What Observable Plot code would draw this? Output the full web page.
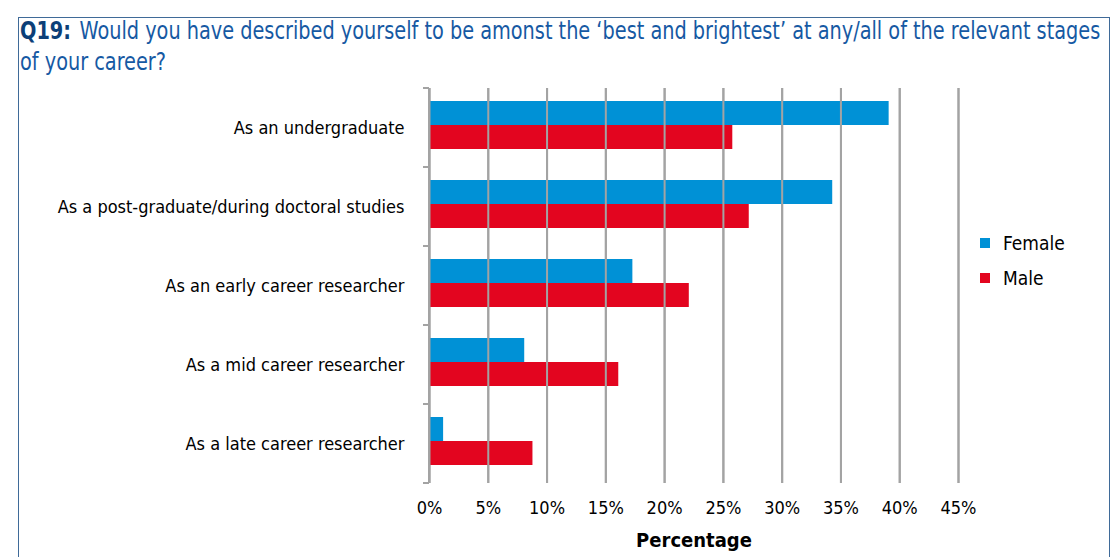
<!DOCTYPE html>
<html>
<head>
<meta charset="utf-8">
<script src="https://cdn.jsdelivr.net/npm/d3@7"></script>
<script src="https://cdn.jsdelivr.net/npm/@observablehq/plot@0.6"></script>
<style>
  html, body { margin: 0; padding: 0; background: #fff; }
  #wrap { position: relative; width: 1113px; height: 557px; overflow: hidden; background: #fff;
          font-family: "DejaVu Sans Condensed", "Liberation Sans Narrow", "Roboto", sans-serif; font-stretch: condensed; }
  #frame { position: absolute; left: 18px; top: 17px; width: 1092px; height: 560px; border: 1.5px solid #3f6a98; box-sizing: border-box; }
  #title { position: absolute; left: 20px; top: 15px; font-size: 25px; line-height: 31px; color: #1659a3;
           white-space: nowrap; transform: scaleX(0.858); transform-origin: left top; }
  #title b { color: #0c3f78; margin-right: 10px; }
  #chart { position: absolute; left: 0; top: 0; }
  #legend { position: absolute; left: 980px; top: 225px; font-size: 19px; color: #000; }
  .li { display: flex; align-items: center; height: 35px; }
  .sw { width: 10px; height: 10px; margin-right: 13px; }
</style>
</head>
<body>
<div id="wrap">
  <div id="frame"></div>
  <div id="title"><b>Q19:</b>Would you have described yourself to be amonst the ‘best and brightest’ at any/all of the relevant stages<br>of your career?</div>
  <div id="chart"></div>
  <div id="legend"></div>
</div>
<script>
const categories = [
  "As an undergraduate",
  "As a post-graduate/during doctoral studies",
  "As an early career researcher",
  "As a mid career researcher",
  "As a late career researcher"
];
const series = ["Female", "Male"];
const female = [39.1, 34.3, 17.3, 8.1, 1.2];
const male = [25.8, 27.2, 22.1, 16.1, 8.8];
const xTicks = [0, 5, 10, 15, 20, 25, 30, 35, 40, 45];
const colors = ["#0091d6", "#e3051f"];

const rows = [];
categories.forEach((c, i) => {
  rows.push({cat: c, gender: "Female", value: female[i]});
  rows.push({cat: c, gender: "Male", value: male[i]});
});

const font = '"DejaVu Sans Condensed", "Liberation Sans Narrow", Roboto, sans-serif';
const gridColor = "#a3a3a3";

// axis line and tick marks at the band boundaries
function yBoundaryTicks() {
  return (index, scales) => {
    const g = d3.create("svg:g");
    const y = scales.y;
    const bw = y.bandwidth();
    const x0 = scales.x(0);
    const edges = categories.map(c => y(c)).concat([y(categories[categories.length - 1]) + bw]);
    g.append("line").attr("x1", x0).attr("x2", x0)
      .attr("y1", edges[0]).attr("y2", edges[edges.length - 1])
      .attr("stroke", gridColor).attr("stroke-width", 2);
    for (const e of edges) {
      g.append("line").attr("x1", x0 - 6).attr("x2", x0).attr("y1", e).attr("y2", e)
        .attr("stroke", gridColor).attr("stroke-width", 2);
    }
    return g.node();
  };
}

const chart = Plot.plot({
  width: 1113,
  height: 557,
  marginLeft: 429,
  marginRight: 155,
  marginTop: 88,
  marginBottom: 74,
  style: {fontFamily: font, fontSize: "18px", color: "#000", background: "transparent"},
  x: {domain: [0, 45], ticks: xTicks},
  y: {domain: categories, padding: 0},
  color: {domain: series, range: colors},
  marks: [
    Plot.gridX(xTicks, {stroke: gridColor, strokeOpacity: 1, strokeWidth: 2}),
    Plot.barX(rows.filter(d => d.gender === "Female"), {x: "value", y: "cat", fill: "gender", insetTop: 13, insetBottom: 42}),
    Plot.barX(rows.filter(d => d.gender === "Male"), {x: "value", y: "cat", fill: "gender", insetTop: 37, insetBottom: 18}),
    yBoundaryTicks(),
    Plot.axisX(xTicks, {tickSize: 0, tickFormat: d => d + "%", fontSize: 18, tickPadding: 18, label: null}),
    Plot.tickX(xTicks, {x: d => d, stroke: gridColor, strokeWidth: 2, frameAnchor: "bottom"}),
    Plot.axisY({tickSize: 0, tickPadding: 25, fontSize: 18, label: null}),
    Plot.text(["Percentage"], {frameAnchor: "bottom", dy: 63, fontWeight: "bold", fontSize: 20})
  ]
});
document.getElementById("chart").appendChild(chart);

const legend = d3.select("#legend");
series.forEach((s, i) => {
  const li = legend.append("div").attr("class", "li");
  li.append("div").attr("class", "sw").style("background", colors[i]);
  li.append("span").text(s);
});
</script>
</body>
</html>
